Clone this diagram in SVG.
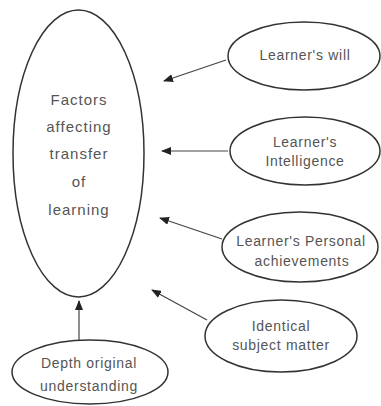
<svg xmlns="http://www.w3.org/2000/svg" width="381" height="406" viewBox="0 0 381 406">
<defs>
<marker id="arr" viewBox="0 0 10 8" refX="9" refY="4" markerWidth="10" markerHeight="8" markerUnits="userSpaceOnUse" orient="auto">
<path d="M0,0 L10,4 L0,8 Z" fill="#222"/>
</marker>
</defs>
<style>
.node ellipse{fill:#fff;stroke:#333;stroke-width:1.5}
text{font-family:"Liberation Sans",Arial,sans-serif;font-size:14px;fill:#555;text-anchor:middle;letter-spacing:0.7px}
.main text{font-size:15px;letter-spacing:1px}
.conn line{stroke:#444;stroke-width:1.2;marker-end:url(#arr)}
</style>
<rect width="381" height="406" fill="#fff"/>
<g id="main" class="node main">
<ellipse cx="78.5" cy="153.5" rx="65.5" ry="143.5"/>
<text x="79" y="105">Factors</text>
<text x="79" y="132">affecting</text>
<text x="79" y="159">transfer</text>
<text x="79" y="187">of</text>
<text x="79" y="215">learning</text>
</g>
<g id="will" class="node">
<ellipse cx="304" cy="56" rx="76" ry="34"/>
<text x="305" y="60">Learner's will</text>
</g>
<g id="intelligence" class="node">
<ellipse cx="305" cy="151" rx="75" ry="34"/>
<text x="305" y="147">Learner's</text>
<text x="305" y="166">Intelligence</text>
</g>
<g id="achievements" class="node">
<ellipse cx="300" cy="247" rx="78" ry="35"/>
<text x="301" y="246">Learner's Personal</text>
<text x="302" y="266">achievements</text>
</g>
<g id="identical" class="node">
<ellipse cx="281" cy="336" rx="76" ry="36"/>
<text x="281" y="331">Identical</text>
<text x="281" y="350">subject matter</text>
</g>
<g id="depth" class="node">
<ellipse cx="90" cy="372" rx="78" ry="32"/>
<text x="89" y="368">Depth original</text>
<text x="89" y="391">understanding</text>
</g>
<g id="connectors" class="conn">
<line x1="226" y1="60" x2="164" y2="81"/>
<line x1="228" y1="151" x2="162" y2="151"/>
<line x1="222" y1="239" x2="160" y2="218"/>
<line x1="207" y1="320" x2="152" y2="290"/>
<line x1="79" y1="340" x2="79" y2="301"/>
</g>
</svg>
